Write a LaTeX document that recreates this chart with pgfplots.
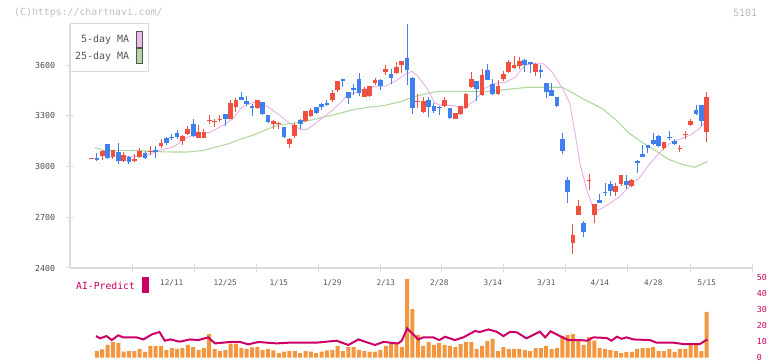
\documentclass[border=0pt]{standalone}
\usepackage{pgfplots}
\pgfplotsset{compat=1.18}
\usepackage{pgfplotstable}
\usepackage{fontspec}
\setmainfont{DejaVu Sans Mono}
\definecolor{cred}{HTML}{EF5040}
\definecolor{cblue}{HTML}{4080EE}
\definecolor{corange}{HTML}{F2963F}
\definecolor{ccrim}{HTML}{CC0066}
\definecolor{cpink}{HTML}{E6B0E6}
\definecolor{cgreen}{HTML}{B0D8A0}
\definecolor{cgrid}{HTML}{DCDCDC}
\definecolor{ctext}{HTML}{555555}

\pgfplotstableread{
i o h l c
0 3045 3050 3043 3049
2 3063 3101 3040 3091
4 3057 3100 3043 3097
6 3034 3085 3030 3067
8 3032 3077 3028 3048
9 3055 3109 3051 3095
11 3087 3124 3069 3095
13 3120 3162 3111 3138
17 3152 3186 3128 3180
18 3192 3239 3186 3221
20 3170 3245 3170 3207
21 3170 3225 3170 3207
22 3271 3304 3255 3277
23 3267 3284 3235 3273
24 3275 3308 3265 3281
26 3282 3393 3280 3377
27 3353 3409 3324 3393
31 3349 3397 3342 3393
34 3251 3278 3223 3271
35 3252 3263 3223 3258
37 3132 3170 3111 3162
38 3180 3257 3170 3247
40 3271 3330 3265 3328
41 3300 3346 3296 3334
45 3393 3452 3383 3436
46 3452 3507 3442 3505
51 3415 3470 3413 3460
52 3419 3477 3415 3476
53 3495 3523 3484 3511
55 3559 3602 3543 3576
57 3553 3618 3551 3588
58 3602 3625 3557 3624
61 3385 3428 3346 3391
62 3322 3411 3320 3389
66 3357 3411 3355 3393
68 3283 3318 3281 3318
69 3310 3359 3304 3357
70 3349 3434 3340 3432
71 3472 3559 3468 3521
73 3422 3576 3420 3541
76 3428 3511 3426 3476
77 3517 3567 3505 3551
78 3559 3634 3557 3618
79 3584 3653 3580 3600
80 3594 3649 3580 3624
83 3561 3612 3537 3610
90 2548 2659 2485 2594
91 2714 2801 2712 2765
93 2917 2955 2864 2923
94 2714 2779 2667 2777
98 2850 2904 2827 2884
99 2900 2951 2884 2949
101 2884 2925 2880 2919
107 3111 3146 3097 3144
110 3103 3126 3087 3113
111 3186 3209 3166 3196
112 3249 3284 3241 3271
115 3205 3442 3146 3413
}\redtbl

\pgfplotstableread{
i o h l c
1 3051 3081 3034 3040
3 3132 3134 3047 3052
5 3085 3138 3016 3034
7 3055 3063 3016 3028
10 3083 3095 3048 3052
12 3097 3120 3052 3087
14 3170 3176 3128 3140
15 3178 3192 3160 3172
16 3197 3215 3162 3174
19 3251 3282 3176 3182
25 3310 3312 3239 3282
28 3411 3440 3395 3397
29 3391 3417 3359 3371
30 3357 3373 3302 3349
32 3381 3383 3308 3312
33 3304 3306 3260 3263
36 3235 3237 3170 3176
39 3278 3280 3225 3251
42 3351 3355 3310 3318
43 3371 3377 3334 3351
44 3379 3397 3357 3367
47 3516 3519 3472 3510
48 3440 3442 3373 3405
49 3468 3488 3424 3452
50 3521 3553 3421 3436
54 3511 3519 3454 3478
56 3547 3578 3490 3523
59 3641 3845 3484 3572
60 3527 3529 3312 3346
63 3393 3411 3292 3351
64 3361 3375 3320 3332
65 3352 3361 3306 3347
67 3346 3349 3284 3286
72 3505 3507 3387 3458
74 3570 3606 3513 3515
75 3492 3521 3422 3428
81 3630 3640 3561 3600
82 3620 3622 3555 3606
84 3574 3600 3525 3561
85 3495 3497 3409 3442
86 3452 3495 3418 3419
87 3413 3415 3353 3359
88 3161 3197 3073 3093
89 2923 2939 2785 2850
92 2669 2677 2584 2614
95 2801 2840 2784 2785
96 2849 2904 2827 2843
97 2900 2915 2827 2856
100 2913 2949 2866 2890
102 3032 3042 2963 3024
103 3077 3126 3056 3057
104 3126 3128 3081 3111
105 3160 3200 3126 3132
106 3180 3186 3117 3123
108 3178 3209 3156 3172
109 3150 3166 3126 3134
113 3338 3363 3308 3310
114 3363 3365 3239 3271
}\bluetbl

\pgfplotstableread{
x y
4.77 3067
7.76 3057
10.4 3067
12.8 3097
15.2 3115
17.9 3174
20.3 3197
22.1 3203
24.6 3245
26.3 3280
28.1 3351
30.2 3381
31.9 3375
33.4 3345
35.2 3304
36.7 3263
39.0 3221
40.3 3221
41.4 3245
43.3 3292
45.1 3334
46.4 3375
47.9 3422
50.6 3452
53.0 3476
54.9 3476
56.7 3505
59.0 3553
59.9 3564
61.0 3535
62.7 3464
64.2 3375
65.5 3363
67.4 3363
68.9 3351
69.8 3351
71.7 3393
73.5 3464
75.4 3493
77.3 3499
79.2 3529
81.0 3600
82.9 3612
84.4 3612
86.1 3559
87.9 3470
89.4 3375
90.4 3197
91.3 3020
92.6 2860
93.6 2771
94.5 2742
95.4 2753
96.9 2783
98.8 2824
100.7 2890
102.5 2937
104.4 3020
106.3 3085
108.1 3138
110.0 3162
111.9 3186
113.7 3227
115.0 3274
}\mafive

\pgfplotstableread{
x y
0.65 3113
2.5 3095
9.1 3095
12.2 3089
14.7 3087
18.0 3087
20.8 3095
23.5 3118
25.3 3132
27.8 3162
30.2 3186
32.8 3221
34.7 3245
37.7 3257
40.8 3274
44.0 3298
46.4 3316
49.3 3340
51.7 3351
54.9 3363
58.0 3387
60.5 3416
62.9 3434
64.8 3446
68.9 3446
74.1 3446
77.9 3458
81.6 3470
87.9 3470
89.8 3440
91.3 3411
92.8 3387
95.4 3345
97.9 3280
100.3 3203
102.9 3144
105.3 3097
107.8 3044
110.4 3014
112.8 2996
115.2 3032
}\matwentyfive

\pgfplotstableread{
i v
1 4.2
2 5.3
3 8.0
4 9.9
5 9.2
6 3.8
7 4.2
8 4.2
9 5.5
10 3.6
11 7.4
12 7.4
13 7.4
14 5.0
15 6.1
16 5.5
17 6.1
18 8.0
19 6.7
20 5.0
21 6.1
22 14.9
23 5.5
24 4.2
25 5.0
26 8.8
27 8.8
28 6.1
29 5.5
30 6.5
31 6.7
32 5.0
33 5.5
34 4.6
35 2.9
36 3.8
37 4.2
38 4.2
39 2.9
40 4.2
41 3.8
42 2.9
43 3.8
44 4.6
45 5.0
46 7.4
47 4.2
48 6.7
49 6.7
50 5.0
51 4.2
52 3.8
53 3.8
54 5.0
55 7.4
56 8.8
57 8.8
58 6.7
59 49.5
60 30.6
61 14.3
62 7.4
63 9.9
64 8.0
65 9.2
66 8.0
67 7.4
68 6.7
69 8.6
70 9.9
71 9.9
72 5.5
73 7.4
74 10.5
75 11.8
76 4.2
77 6.7
78 5.5
79 5.5
80 5.5
81 4.8
82 4.2
83 6.1
84 6.1
85 7.4
86 5.5
87 6.1
88 13.6
89 14.3
90 14.9
91 11.1
92 8.0
93 13.0
94 10.7
95 6.1
96 5.5
97 4.8
98 4.2
99 2.9
100 3.6
101 3.6
102 5.5
103 6.1
104 6.1
105 6.7
106 4.2
107 4.2
108 5.5
109 3.6
110 5.5
111 5.5
112 8.0
113 8.0
114 4.2
115 28.8
}\voltbl

\pgfplotstableread{
x v
0.84 13.6
1.6 12.2
2.8 13.6
3.8 11.1
5.0 14.1
5.9 12.8
8.4 12.8
9.7 11.5
11.3 14.7
12.7 16.2
13.7 10.7
14.7 11.5
16.5 10.1
18.4 11.5
20.0 11.1
21.8 12.8
23.1 9.0
25.9 9.9
27.8 9.9
29.3 8.4
31.2 9.9
34.6 9.0
37.1 9.5
39.0 9.5
42.1 9.5
45.8 10.7
48.0 8.0
49.9 11.5
51.1 10.1
53.0 8.0
54.6 10.0
56.4 9.2
57.3 9.0
58.0 10.7
59.0 18.5
59.8 15.7
61.1 11.5
62.0 12.8
63.9 12.8
65.0 11.1
66.1 13.2
67.9 11.1
69.5 12.8
71.7 16.8
72.6 16.2
74.2 17.8
75.7 16.4
77.0 13.6
78.2 16.2
79.5 16.0
81.3 12.2
83.8 16.4
84.8 12.8
85.8 16.6
87.6 13.6
89.1 11.1
91.3 11.1
92.6 10.7
93.8 12.8
96.3 12.4
97.2 10.7
98.2 13.2
99.1 11.9
100.0 12.8
101.3 11.5
104.4 11.1
105.6 9.5
108.7 9.5
110.6 8.6
112.5 8.6
113.7 8.6
115.1 11.5
}\aitbl

\pgfplotsset{
  candle/.style n args={2}{draw=none, mark=none, forget plot,
    error bars/.cd, y dir=plus, y explicit, error mark=none,
    error bar style={line width=#2, draw=#1, solid}},
}

\begin{document}
\begin{tikzpicture}
\useasboundingbox (0,0) rectangle (772bp,361bp);
% main price panel
\begin{axis}[
  at={(70bp,93bp)}, anchor=south west, scale only axis,
  width=682bp, height=244bp,
  xmin=-4.019, xmax=123.46, ymin=2400, ymax=3844.5,
  clip=false,
  axis x line*=bottom, axis y line*=left,
  axis line style={-, draw=cgrid, line width=1.5bp},
  tick align=center, major tick length=8bp,
  tick style={draw=cgrid, line width=1bp},
  xtick={7.57,19.16,30.75,42.34,53.93,65.51,77.10,88.69,100.28,111.87,123.46},
  xticklabels={},
  extra x ticks={15,25,35,45,55,65,75,85,95,105,115},
  extra x tick labels={12/11,12/25,1/15,1/29,2/13,2/28,3/14,3/31,4/14,4/28,5/15},
  extra x tick style={major tick length=0pt},
  xticklabel style={font=\fontsize{7.7}{8}\selectfont, text=ctext, anchor=base, inner sep=0pt, yshift=-17.3bp},
  ytick={2400,2700,3000,3300,3600},
  yticklabel style={font=\fontsize{8.3}{9}\selectfont, text=ctext!90!black, anchor=east, inner sep=0pt, xshift=-10.7bp},
  /pgf/number format/assume math mode=true,
  /pgf/number format/1000 sep={},
]
\addplot[cgreen, line width=1.1bp, forget plot] table[x=x, y=y] {\matwentyfive};
\addplot[cpink, line width=0.9bp, forget plot] table[x=x, y=y] {\mafive};
% wicks
\addplot[candle={cred}{1bp}] table[x=i, y=l, y error expr=\thisrow{h}-\thisrow{l}] {\redtbl};
\addplot[candle={cblue}{1bp}] table[x=i, y=l, y error expr=\thisrow{h}-\thisrow{l}] {\bluetbl};
% bodies
\addplot[candle={cred}{4.7bp}] table[x=i, y=o, y error expr=\thisrow{c}-\thisrow{o}] {\redtbl};
\addplot[candle={cblue}{4.7bp}] table[x=i, y=c, y error expr=\thisrow{o}-\thisrow{c}] {\bluetbl};
\end{axis}
% lower panel
\begin{axis}[
  at={(70bp,3.3bp)}, anchor=south west, scale only axis,
  width=682bp, height=79.4bp,
  xmin=-4.019, xmax=123.46, ymin=0, ymax=50,
  clip=false,
  hide x axis,
  axis y line*=right,
  y axis line style={draw=none},
  major tick length=0pt,
  ytick={0,10,20,30,40,50},
  yticklabel style={font=\fontsize{8.3}{9}\selectfont, text=ccrim, anchor=west, inner sep=0pt, xshift=4.7bp, yshift=0.6bp},
  /pgf/number format/assume math mode=true,
]
\addplot[ybar, bar width=4bp, fill=corange, draw=none, forget plot] table[x=i, y=v] {\voltbl};
\addplot[ccrim, line width=2bp, forget plot] table[x=x, y=v] {\aitbl};
\end{axis}
% legend
\draw[cgrid, line width=1bp, fill=white] (70bp,289bp) rectangle (148.3bp,337bp);
\node[anchor=east, inner sep=0pt, font=\fontsize{10}{11}\selectfont, text=ctext] at (129.3bp,321bp) {5-day MA};
\node[anchor=east, inner sep=0pt, font=\fontsize{10}{11}\selectfont, text=ctext] at (129.3bp,304bp) {25-day MA};
\draw[ctext, line width=0.8bp, fill=cpink!85!white] (136.3bp,314bp) rectangle (142.6bp,330bp);
\draw[ctext, line width=0.8bp, fill=cgreen] (136.3bp,298bp) rectangle (142.6bp,313bp);
% AI-Predict label
\node[anchor=west, inner sep=0pt, font=\fontsize{9.8}{11}\selectfont, text=ccrim] at (76bp,75bp) {AI-Predict};
\fill[ccrim] (142.3bp,68.3bp) rectangle (149bp,84.3bp);
% watermark and code
\node[anchor=west, inner sep=0pt, font=\fontsize{9.9}{11}\selectfont, text=black!25] at (14bp,348.5bp) {(C)https://chartnavi.com/};
\node[anchor=east, inner sep=0pt, font=\fontsize{10}{11}\selectfont, text=black!28] at (757.3bp,348.5bp) {5101};
\end{tikzpicture}
\end{document}
